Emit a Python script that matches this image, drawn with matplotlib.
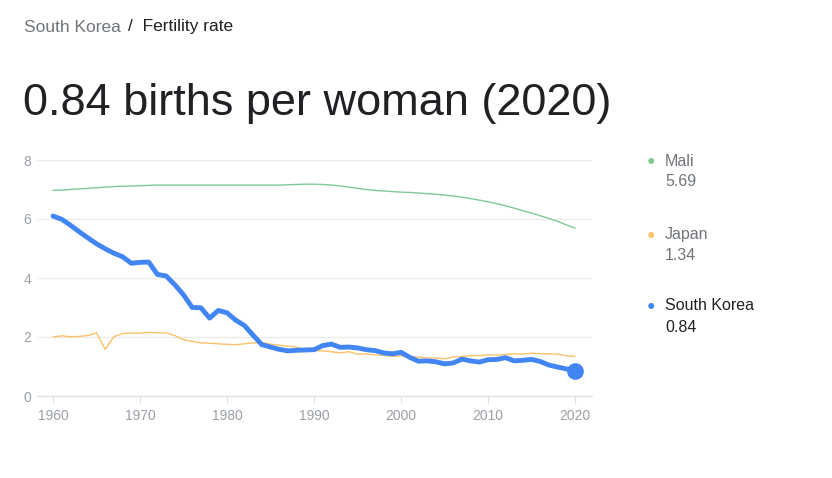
import numpy as np
import matplotlib.pyplot as plt

plt.rcParams['font.family'] = ['Liberation Sans', 'DejaVu Sans']

years = list(range(1960, 2021))

mali = [6.97, 6.98, 7.00, 7.02, 7.04, 7.06, 7.08, 7.10, 7.11, 7.12,
        7.13, 7.14, 7.15, 7.15, 7.15, 7.15, 7.15, 7.15, 7.15, 7.15,
        7.15, 7.15, 7.15, 7.15, 7.15, 7.15, 7.15, 7.16, 7.17, 7.18,
        7.18, 7.17, 7.15, 7.12, 7.08, 7.04, 7.00, 6.97, 6.95, 6.93,
        6.91, 6.90, 6.88, 6.86, 6.84, 6.81, 6.78, 6.74, 6.69, 6.64,
        6.58, 6.52, 6.45, 6.37, 6.28, 6.20, 6.11, 6.02, 5.92, 5.80,
        5.69]

japan = [2.00, 2.04, 2.01, 2.02, 2.05, 2.14, 1.58, 2.01, 2.12, 2.13,
         2.13, 2.16, 2.14, 2.14, 2.05, 1.91, 1.85, 1.80, 1.79, 1.77,
         1.75, 1.74, 1.77, 1.80, 1.81, 1.76, 1.72, 1.69, 1.66, 1.57,
         1.54, 1.53, 1.50, 1.46, 1.50, 1.42, 1.43, 1.39, 1.38, 1.34,
         1.36, 1.33, 1.32, 1.29, 1.29, 1.26, 1.32, 1.34, 1.37, 1.37,
         1.39, 1.39, 1.41, 1.43, 1.42, 1.45, 1.44, 1.43, 1.42, 1.36,
         1.34]

south_korea = [6.10, 5.99, 5.79, 5.57, 5.36, 5.16, 4.99, 4.84, 4.72, 4.50,
               4.53, 4.54, 4.12, 4.07, 3.77, 3.43, 3.00, 2.99, 2.64, 2.90,
               2.82, 2.57, 2.39, 2.06, 1.74, 1.66, 1.58, 1.53, 1.55, 1.56,
               1.57, 1.71, 1.76, 1.65, 1.66, 1.63, 1.57, 1.54, 1.46, 1.43,
               1.48, 1.31, 1.18, 1.19, 1.16, 1.09, 1.12, 1.25, 1.19, 1.15,
               1.23, 1.24, 1.30, 1.19, 1.21, 1.24, 1.17, 1.05, 0.98, 0.92,
               0.84]

series = [("Mali", mali, "#81c995", 1.0, "#70757a"),
          ("Japan", japan, "#fbc16a", 1.0, "#70757a"),
          ("South Korea", south_korea, "#4285f4", 3.5, "#202124")]

fig = plt.figure(figsize=(8.32, 4.78), dpi=100)
ax = fig.add_axes([37 / 832, 1 - 396 / 478, (592 - 37) / 832, (396 - 160) / 478])

for name, vals, color, lw, _ in series:
    ax.plot(years, vals, color=color, lw=lw, solid_joinstyle='round',
            solid_capstyle='round', clip_on=False, zorder=3 if lw > 2 else 2)
ax.plot([years[-1]], [south_korea[-1]], 'o', color="#4285f4", ms=11,
        clip_on=False, zorder=4)

ax.set_xlim(1958.16, 2021.95)
ax.set_ylim(0, 8)
ax.set_yticks([0, 2, 4, 6, 8])
ax.set_xticks(range(1960, 2021, 10))
ax.grid(axis='y', color='#ebebeb', lw=1)
ax.set_axisbelow(True)
for s in ['top', 'right', 'left']:
    ax.spines[s].set_visible(False)
ax.spines['bottom'].set_color('#e0e0e0')
ax.tick_params(axis='y', length=0, pad=4, labelsize=10, labelcolor='#9aa0a6')
ax.tick_params(axis='x', length=5, color='#e0e0e0', pad=4, labelsize=10,
               labelcolor='#9aa0a6')

# header
fig.text(24 / 832, 1 - 27 / 478, "South Korea", fontsize=12.5, color='#70757a',
         va='center')
fig.text(128 / 832, 1 - 27 / 478, "/  Fertility rate", fontsize=12.5,
         color='#202124', va='center')
fig.text(23 / 832, 1 - 103 / 478, "0.84 births per woman (2020)", fontsize=32.5,
         color='#202124', va='center')

# legend
legend_y = [161, 235, 306]
for (name, vals, color, lw, tcol), ly in zip(series, legend_y):
    fig.text(651 / 832, 1 - ly / 478, "\u25cf", fontsize=10, color=color,
             ha='center', va='center')
    fig.text(665 / 832, 1 - ly / 478, name, fontsize=11.5, color=tcol,
             va='center')
    fig.text(665 / 832, 1 - (ly + 21) / 478, "%.2f" % vals[-1], fontsize=11.5,
             color=tcol, va='center')

fig.savefig("out.png", dpi=100)
